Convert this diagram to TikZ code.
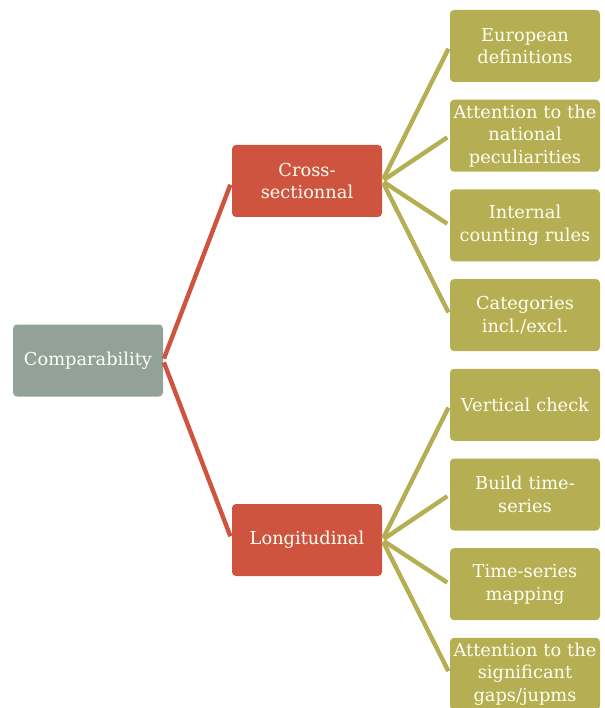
\documentclass[tikz,border=0pt]{standalone}
\usepackage{fontspec}
\setmainfont{DejaVu Serif}
\definecolor{rootc}{HTML}{93A299}
\definecolor{midc}{HTML}{CF543F}
\definecolor{leafc}{HTML}{B5AE53}
\definecolor{txtc}{HTML}{FFFFF4}
\begin{document}
\begin{tikzpicture}[x=1pt,y=-1pt,
  box/.style={rounded corners=4pt,minimum width=150pt,minimum height=72pt,
    text width=148pt,align=center,inner sep=0pt,text=txtc,
    font=\fontsize{17.8}{22.5}\selectfont},
  rootbox/.style={box,fill=rootc},
  midbox/.style={box,fill=midc},
  leafbox/.style={box,fill=leafc},
  redline/.style={draw=midc,line width=4.4pt},
  olvline/.style={draw=leafc,line width=4.4pt,shorten >=3pt,shorten <=2pt}]
\useasboundingbox (0,0) rectangle (604,708);
\node[rootbox] (root) at (88,360.5) {Comparability};
\node[midbox] (cs) at (307,181) {Cross-\\sectionnal};
\node[midbox] (lo) at (307,540) {Longitudinal};
\node[leafbox] (l1) at (525,46) {European\\definitions};
\node[leafbox] (l2) at (525,135.7) {Attention to the\\national\\peculiarities};
\node[leafbox] (l3) at (525,225.4) {Internal\\counting rules};
\node[leafbox] (l4) at (525,315.1) {Categories\\incl./excl.};
\node[leafbox] (l5) at (525,404.8) {Vertical check};
\node[leafbox] (l6) at (525,494.5) {Build time-\\series};
\node[leafbox] (l7) at (525,584.2) {Time-series\\mapping};
\node[leafbox] (l8) at (525,673.9) {Attention to the\\significant\\gaps/jupms};
\draw[redline,shorten <=2pt,shorten >=4pt] (root.east) -- (cs.west);
\draw[redline,shorten <=2pt,shorten >=4pt] (root.east) -- (lo.west);
\foreach \n in {l1,l2,l3,l4}{\draw[olvline] (cs.east) -- (\n.west);}
\foreach \n in {l5,l6,l7,l8}{\draw[olvline] (lo.east) -- (\n.west);}
\end{tikzpicture}
\end{document}
